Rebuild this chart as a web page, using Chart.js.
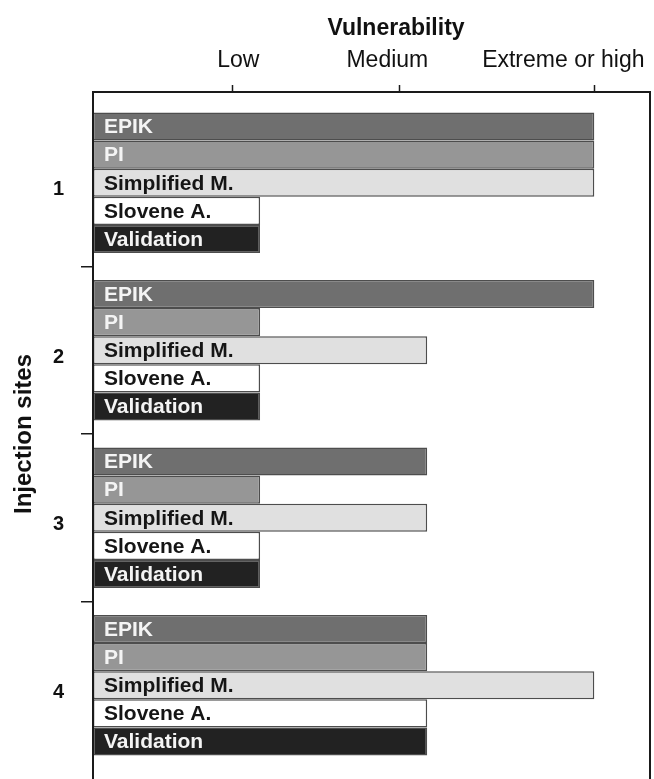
<!DOCTYPE html>
<html>
<head>
<meta charset="utf-8">
<script src="https://cdn.jsdelivr.net/npm/chart.js@4.4.1/dist/chart.umd.min.js"></script>
<style>
  html, body { margin: 0; padding: 0; background: #fff; }
  #wrap { width: 654px; height: 779px; position: relative; }
</style>
</head>
<body>
<div id="wrap"><canvas id="c"></canvas></div>
<script>
// categories
const SITES   = ['1', '2', '3', '4']
const METHODS = ['EPIK', 'PI', 'Simplified M.', 'Slovene A.', 'Validation']

// vulnerability scale (arbitrary 0-100 units)
const LEVEL_TICKS  = [25, 55, 90]
const LEVEL_LABELS = ['Low', 'Medium', 'Extreme or high']
const LOW = 30, MED = 60, HIGH = 90

// series, one value per injection site
const EPIK       = [HIGH, HIGH, MED,  MED]
const PI         = [HIGH, LOW,  LOW,  MED]
const SIMPLIFIED = [HIGH, MED,  MED,  HIGH]
const SLOVENE    = [LOW,  LOW,  LOW,  MED]
const VALIDATION = [LOW,  LOW,  LOW,  MED]

const FILLS  = ['#6f6f6f', '#969696', '#e0e0e0', '#ffffff', '#222222']
const INKS   = ['#f4f4f4', '#f4f4f4', '#151515', '#151515', '#f4f4f4']
const FONT   = 'Liberation Sans, Arial, Helvetica, sans-serif'
const LABEL_NUDGE = [6, -12, -31]

Chart.defaults.font.family = FONT
Chart.defaults.color = '#111'

// frame, top ticks, level labels, axis title
const framePlugin = {
  id: 'frame',
  afterDraw(chart) {
    const { ctx, chartArea: a, scales: { x } } = chart
    const top = a.top - 7
    const H = chart.height
    ctx.save()
    ctx.strokeStyle = '#1a1a1a'
    ctx.lineWidth = 2
    ctx.beginPath()
    ctx.moveTo(a.left, H + 2); ctx.lineTo(a.left, top); ctx.lineTo(a.right, top); ctx.lineTo(a.right, H + 2)
    ctx.stroke()

    ctx.lineWidth = 1.5
    LEVEL_TICKS.forEach(v => {
      const px = Math.round(x.getPixelForValue(v)) + 0.5
      ctx.beginPath(); ctx.moveTo(px, top); ctx.lineTo(px, top - 7); ctx.stroke()
    })

    ctx.fillStyle = '#111'
    ctx.textAlign = 'center'
    ctx.textBaseline = 'alphabetic'
    ctx.font = '23px ' + FONT
    LEVEL_TICKS.forEach((v, i) => {
      ctx.fillText(LEVEL_LABELS[i], x.getPixelForValue(v) + LABEL_NUDGE[i], 67)
    })
    ctx.font = 'bold 23px ' + FONT
    ctx.fillText('Vulnerability', 396, 35)
    ctx.restore()
  }
}

// method names written inside the bars
const barLabels = {
  id: 'barLabels',
  afterDatasetsDraw(chart) {
    const { ctx } = chart
    ctx.save()
    ctx.font = 'bold 21px ' + FONT
    ctx.textAlign = 'left'
    ctx.textBaseline = 'middle'
    chart.data.datasets.forEach((ds, i) => {
      const meta = chart.getDatasetMeta(i)
      ctx.fillStyle = INKS[i]
      meta.data.forEach(bar => {
        ctx.fillText(ds.label, bar.base + 11, bar.y + 1)
      })
    })
    ctx.restore()
  }
}

const series = [EPIK, PI, SIMPLIFIED, SLOVENE, VALIDATION]

new Chart(document.getElementById('c'), {
  type: 'bar',
  data: {
    labels: SITES,
    datasets: METHODS.map((m, i) => ({
      label: m,
      data: series[i],
      backgroundColor: FILLS[i],
      borderColor: '#4d4d4d',
      borderWidth: 1.5,
      borderSkipped: false,
      categoryPercentage: 0.84,
      barPercentage: 1.0,
    }))
  },
  options: {
    indexAxis: 'y',
    responsive: true,
    maintainAspectRatio: false,
    animation: false,
    layout: { padding: { top: 99, right: 4, bottom: 10, left: 7 } },
    plugins: {
      legend: { display: false },
      tooltip: { enabled: false },
    },
    scales: {
      x: { display: false, min: 0, max: 100 },
      y: {
        afterFit: s => { s.width = 86; s.paddingTop = 0; s.paddingBottom = 0 },
        border: { display: false },
        grid: {
          offset: true,
          drawOnChartArea: false,
          drawTicks: true,
          tickLength: 12,
          lineWidth: 1.5,
          color: c => (c.type === 'tick' && c.index > 0 && c.index < SITES.length) ? '#1a1a1a' : 'rgba(0,0,0,0)',
        },
        ticks: {
          font: { size: 20, weight: 'bold' },
          color: '#111',
          padding: 17,
          labelOffset: 7,
        },
        title: {
          display: true,
          text: 'Injection sites',
          font: { size: 24, weight: 'bold' },
          color: '#111',
          padding: { top: 3, bottom: 4 },
        }
      }
    }
  },
  plugins: [framePlugin, barLabels]
})
</script>
</body>
</html>
